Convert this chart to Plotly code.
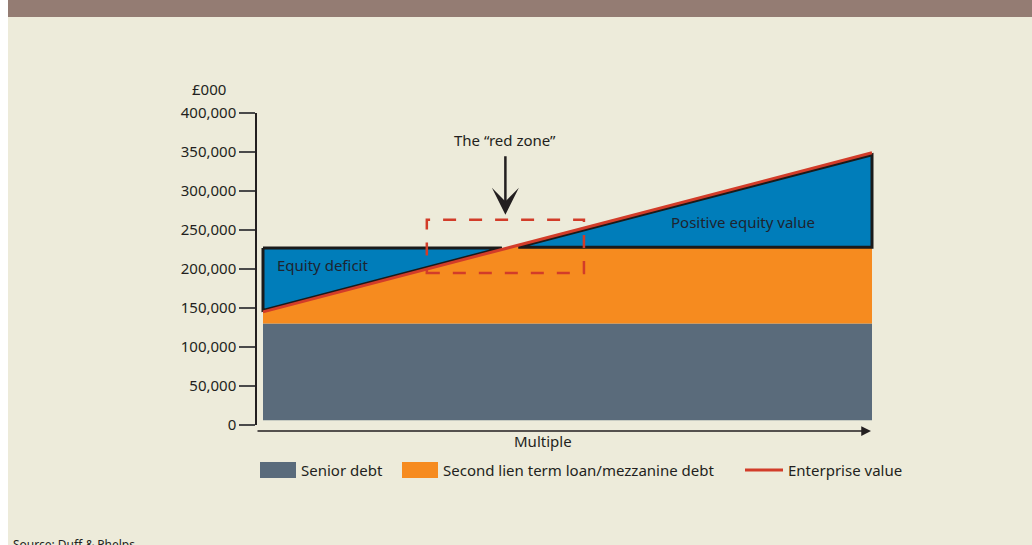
import plotly.graph_objects as go

# ---------------- data ----------------
multiple = [0, 10]                       # schematic x positions (left / right end)
senior_debt_floor = [6000, 6000]
senior_debt = [130000, 130000]
mezzanine_top = [229000, 229000]
enterprise_value = [145000, 349000]
y_tick_vals = [0, 50000, 100000, 150000, 200000, 250000, 300000, 350000, 400000]
y_tick_text = ["0", "50,000", "100,000", "150,000", "200,000", "250,000",
               "300,000", "350,000", "400,000"]
red_zone_x = [2.69, 5.27]
red_zone_y = [195000, 263000]
legend_names = ["Senior debt", "Second lien term loan/mezzanine debt", "Enterprise value"]

# ---------------- style ----------------
BG = "#EDEBDA"
GRAY = "#5A6B7B"
ORANGE = "#F68B1F"
BLUE = "#007DBA"
RED = "#D23C29"
DARK = "#231F20"
FONT = "Noto Sans"

# layout geometry (pixels)
W, H = 1032, 545
ML, MR, MT, MB = 257, 152, 113, 120
PW, PH = W - ML - MR, H - MT - MB


def px(x):
    return (x - ML) / PW


def py(y):
    return (H - MB - y) / PH


x0, x1 = multiple
ev0, ev1 = enterprise_value


def x_at_ev(v):
    return x0 + (v - ev0) / (ev1 - ev0) * (x1 - x0)


xc = x_at_ev(mezzanine_top[0])  # crossing point

fig = go.Figure()

# Senior debt
fig.add_trace(go.Scatter(
    x=[x0, x1, x1, x0], y=[senior_debt_floor[0], senior_debt_floor[1], senior_debt[1], senior_debt[0]],
    fill="toself", fillcolor=GRAY, mode="none", name=legend_names[0], showlegend=False,
    hoverinfo="skip"))

# Second lien / mezzanine (capped by enterprise value in deficit zone)
fig.add_trace(go.Scatter(
    x=[x0, xc, x1, x1, x0],
    y=[ev0, mezzanine_top[0], mezzanine_top[1], senior_debt[1], senior_debt[0]],
    fill="toself", fillcolor=ORANGE, mode="none", name=legend_names[1], showlegend=False,
    hoverinfo="skip"))

# Equity deficit (blue, outlined)
top_def = mezzanine_top[0] - 2000
x_def_tip = x_at_ev(top_def - 2000)
fig.add_trace(go.Scatter(
    x=[x0, x_def_tip, x0, x0], y=[top_def, top_def, ev0 + 2000, top_def],
    fill="toself", fillcolor=BLUE, mode="lines",
    line=dict(color="#1A1A1A", width=3), showlegend=False, hoverinfo="skip"))

# Positive equity value (blue, outlined)
top_pos = mezzanine_top[0] - 1000
x_pos_tip = x_at_ev(top_pos + 2500)
fig.add_trace(go.Scatter(
    x=[x_pos_tip, x1, x1, x_pos_tip], y=[top_pos, top_pos, ev1 - 2500, top_pos],
    fill="toself", fillcolor=BLUE, mode="lines",
    line=dict(color="#1A1A1A", width=3), showlegend=False, hoverinfo="skip"))

# Enterprise value line
fig.add_trace(go.Scatter(
    x=multiple, y=enterprise_value, mode="lines",
    line=dict(color=RED, width=3), name=legend_names[2], showlegend=False,
    hoverinfo="skip"))

shapes = [
    # white left strip and top bar
    dict(type="rect", xref="paper", yref="paper", x0=px(0), x1=px(8), y0=py(H), y1=py(0),
         fillcolor="white", line=dict(width=0), layer="below"),
    dict(type="rect", xref="paper", yref="paper", x0=px(8), x1=px(W), y0=py(17), y1=py(0),
         fillcolor="#947C73", line=dict(width=0), layer="below"),
    # red zone dashed box
    dict(type="rect", xref="x", yref="y", x0=red_zone_x[0], x1=red_zone_x[1],
         y0=red_zone_y[0], y1=red_zone_y[1],
         line=dict(color=RED, width=2.5, dash="13px,13px"), fillcolor="rgba(0,0,0,0)"),
    # legend swatches
    dict(type="rect", xref="paper", yref="paper", x0=px(260), x1=px(296), y0=py(478), y1=py(462),
         fillcolor=GRAY, line=dict(width=0)),
    dict(type="rect", xref="paper", yref="paper", x0=px(402), x1=px(438), y0=py(478), y1=py(462),
         fillcolor=ORANGE, line=dict(width=0)),
    dict(type="line", xref="paper", yref="paper", x0=px(745), x1=px(783), y0=py(470), y1=py(470),
         line=dict(color=RED, width=3)),
]

tf = dict(family=FONT, size=15, color=DARK)
lf = dict(family=FONT, size=15, color="#1E2430")
annotations = [
    dict(text="£000", xref="paper", yref="paper", x=px(209), y=py(89), showarrow=False,
         xanchor="center", yanchor="middle", font=tf),
    dict(text="The “red zone”", xref="x", yref="paper", x=sum(red_zone_x) / 2, y=py(140),
         showarrow=False, xanchor="center", yanchor="middle", font=tf),
    dict(text="", xref="x", yref="y", x=sum(red_zone_x) / 2, y=red_zone_y[1],
         showarrow=True, ax=0, ay=-65, standoff=5, arrowhead=3, arrowsize=1.8,
         arrowwidth=2.5, arrowcolor=DARK),
    dict(text="Equity deficit", xref="x", yref="y", x=0.19, y=205000, showarrow=False,
         xanchor="left", yanchor="middle", font=lf),
    dict(text="Positive equity value", xref="x", yref="y", x=7.88, y=260000, showarrow=False,
         xanchor="center", yanchor="middle", font=lf),
    dict(text="Multiple", xref="paper", yref="paper", x=px(543), y=py(441), showarrow=False,
         xanchor="center", yanchor="middle", font=tf),
    # x axis arrow
    dict(text="", xref="paper", yref="paper", x=px(871), y=py(431), showarrow=True,
         ax=-615, ay=0, arrowhead=2, arrowsize=1.3, arrowwidth=1.5, arrowcolor=DARK, standoff=0),
    # legend texts
    dict(text=legend_names[0], xref="paper", yref="paper", x=px(299), y=py(470), showarrow=False,
         xanchor="left", yanchor="middle", font=tf),
    dict(text=legend_names[1], xref="paper", yref="paper", x=px(441), y=py(470), showarrow=False,
         xanchor="left", yanchor="middle", font=tf),
    dict(text=legend_names[2], xref="paper", yref="paper", x=px(786), y=py(470), showarrow=False,
         xanchor="left", yanchor="middle", font=tf),
    dict(text="Source: Duff & Phelps", xref="paper", yref="paper", x=px(11), y=py(534),
         showarrow=False, xanchor="left", yanchor="top",
         font=dict(family=FONT, size=12, color=DARK)),
]

x_per_px = (x1 - x0) / (872 - 263)
fig.update_layout(
    width=W, height=H,
    margin=dict(l=ML, r=MR, t=MT, b=MB, pad=0),
    paper_bgcolor=BG, plot_bgcolor=BG,
    showlegend=False,
    xaxis=dict(range=[x0 - (263 - ML) * x_per_px, x1 + (ML + PW - 872) * x_per_px],
               visible=False, fixedrange=True),
    yaxis=dict(range=[0, 400000], tickvals=y_tick_vals, ticktext=y_tick_text,
               ticks="outside", ticklen=16, tickwidth=1.5, tickcolor="#4A4A4A",
               showline=True, linecolor=DARK, linewidth=1.5, showgrid=False,
               zeroline=False, tickfont=tf, fixedrange=True),
    shapes=shapes,
    annotations=annotations,
)

fig.write_html("out.html")
